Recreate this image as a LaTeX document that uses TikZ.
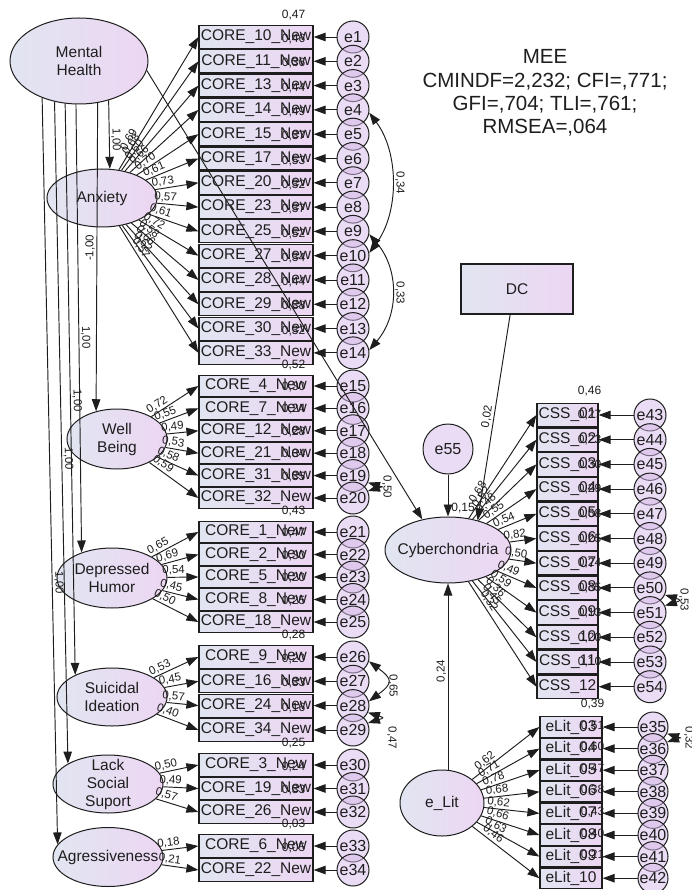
\documentclass[tikz,border=0pt]{standalone}
\usepackage{fontspec}
\setmainfont{Liberation Sans}
\usetikzlibrary{arrows.meta,shapes.geometric,calc}
\definecolor{shL}{RGB}{225,229,241}
\definecolor{shR}{RGB}{237,214,243}
\definecolor{errf}{RGB}{214,186,234}
\definecolor{ink}{RGB}{30,30,30}
\tikzset{
  lat/.style={ellipse, draw=ink, line width=1pt, left color=shL, right color=shR, inner sep=0pt},
  latlab/.style={font=\fontsize{15.5}{18}\selectfont, align=center, text=ink, inner sep=0pt},
  obs/.style={rectangle, draw=ink, line width=1.2pt, left color=shL, right color=shR, inner sep=0pt, font=\fontsize{15.5}{16}\selectfont, text=ink},
  err/.style={circle, draw=ink, line width=1pt, fill=errf, fill opacity=0.5, text opacity=1, inner sep=0pt, minimum size=32pt, font=\fontsize{16}{16}\selectfont, text=ink},
  arr/.style={->, draw=ink, line width=0.95pt},
  biarr/.style={<->, draw=ink, line width=0.95pt},
  coef/.style={font=\fontsize{11.5}{12}\selectfont, text=ink, inner sep=1.5pt},
  rsq/.style={font=\fontsize{12}{12}\selectfont, text=ink, inner sep=0pt},
}
\begin{document}
\begin{tikzpicture}[x=1pt,y=-1pt,>={Triangle[length=12pt,width=8.5pt]}]
\useasboundingbox (0,0) rectangle (692,890);
\fill[white] (0,0) rectangle (692,890);

% ---------- latent variables ----------
\node[lat, minimum width=138pt, minimum height=86pt] (mh) at (79,61) {};
\node[latlab] (mhT) at (mh) {Mental\\Health};
\node[lat, minimum width=110pt, minimum height=58pt] (anx) at (102,198) {};
\node[latlab] (anxT) at (anx) {Anxiety};
\node[lat, minimum width=100pt, minimum height=60pt] (wb) at (117,439) {};
\node[latlab] (wbT) at (wb) {Well\\Being};
\node[lat, minimum width=110pt, minimum height=60pt] (dep) at (112,578) {};
\node[latlab] (depT) at (dep) {Depressed\\Humor};
\node[lat, minimum width=110pt, minimum height=58pt] (sui) at (112,697) {};
\node[latlab] (suiT) at (sui) {Suicidal\\Ideation};
\node[lat, minimum width=110pt, minimum height=58pt] (lss) at (108,784) {};
\node[latlab] (lssT) at (lss) {Lack\\Social\\Suport};
\node[lat, minimum width=110pt, minimum height=59pt] (agr) at (108,857) {};
\node[latlab] (agrT) at (agr) {Agressiveness};
\node[lat, minimum width=126pt, minimum height=66pt] (cyb) at (448,550) {};
\node[latlab] (cybT) at (cyb) {Cyberchondria};
\node[lat, minimum width=84pt, minimum height=66pt] (elit) at (442,803) {};
\node[latlab] (elitT) at (elit) {e\_Lit};

% ---------- CORE indicators ----------
\foreach \y/\c/\l/\r/\e/\h/\s in {
 37/10/{0,69}/{0,47}/1/23/anx, 61.3/11/{0,68}/{0,46}/2/23/anx, 85.6/13/{0,60}/{0,36}/3/23/anx,
 109.9/14/{0,66}/{0,44}/4/23/anx, 134.2/15/{0,70}/{0,49}/5/23/anx, 158.5/17/{0,61}/{0,37}/6/23/anx,
 182.8/20/{0,73}/{0,53}/7/23/anx, 207.1/23/{0,57}/{0,32}/8/23/anx, 231.4/25/{0,61}/{0,37}/9/23/anx,
 255.7/27/{0,72}/{0,52}/10/23/anx, 280/28/{0,58}/{0,34}/11/23/anx, 304.3/29/{0,66}/{0,44}/12/23/anx,
 328.6/30/{0,62}/{0,38}/13/23/anx, 352.9/33/{0,57}/{0,32}/14/23/anx,
 386/4/{0,72}/{0,52}/15/21.5/wb, 408.4/7/{0,55}/{0,30}/16/21.5/wb, 430.8/12/{0,49}/{0,24}/17/21.5/wb,
 453.2/21/{0,53}/{0,28}/18/21.5/wb, 475.6/31/{0,58}/{0,34}/19/21.5/wb, 498/32/{0,59}/{0,35}/20/21.5/wb,
 532/1/{0,65}/{0,43}/21/21.5/dep, 554.5/2/{0,69}/{0,47}/22/21.5/dep, 577/5/{0,54}/{0,30}/23/21.5/dep,
 599.5/8/{0,45}/{0,20}/24/21.5/dep, 622/18/{0,50}/{0,25}/25/21.5/dep,
 657/9/{0,53}/{0,28}/26/23/sui, 681.3/16/{0,45}/{0,20}/27/23/sui, 705.6/24/{0,57}/{0,33}/28/23/sui,
 730/34/{0,40}/{0,16}/29/23/sui,
 765/3/{0,50}/{0,25}/30/22.5/lss, 788.5/19/{0,49}/{0,24}/31/22.5/lss, 812/26/{0,57}/{0,33}/32/22.5/lss,
 846/6/{0,18}/{0,03}/33/23/agr, 870/22/{0,21}/{0,05}/34/23/agr}
{
  \node[obs, minimum width=114pt, minimum height=\h pt] (o\c) at (256,\y) {CORE\_\c\_New};
  \node[rsq] (r\c) at ($(o\c.north east)+(-20,-10)$) {\r};
  \node[err] (e\e) at (353,\y) {e\e};
  \draw[arr] (e\e) -- (o\c);
  \draw[arr] (\s) -- node[coef, pos=0.2, sloped, above] (k\c) {\l} (o\c.west);
}

% ---------- CSS indicators ----------
\foreach \y/\c/\l/\r/\e in {
 415/01/{0,68}/{0,46}/43, 439.7/02/{0,52}/{0,27}/44, 464.4/03/{0,48}/{0,23}/45,
 489.1/04/{0,55}/{0,30}/46, 513.8/05/{0,54}/{0,29}/47, 538.5/06/{0,82}/{0,68}/48,
 563.2/07/{0,50}/{0,25}/49, 587.9/08/{0,49}/{0,24}/50, 612.6/09/{0,59}/{0,35}/51,
 637.3/10/{0,36}/{0,13}/52, 662/11/{0,45}/{0,20}/53, 686.7/12/{0,32}/{0,10}/54}
{
  \node[obs, minimum width=61pt, minimum height=23.5pt] (c\c) at (567.5,\y) {CSS\_\c};
  \node[rsq] (rc\c) at ($(c\c.north east)+(-9,-12)$) {\r};
  \node[err] (e\e) at (650,\y) {e\e};
  \draw[arr] (e\e) -- (c\c);
  \draw[arr] (cyb) -- node[coef, pos=0.22, sloped, above] (kc\c) {\l} (c\c.west);
}

% ---------- eLit indicators ----------
\foreach \y/\c/\l/\r/\e in {
 727/03/{0,62}/{0,39}/35, 748.6/04/{0,71}/{0,51}/36, 770.2/05/{0,78}/{0,60}/37,
 791.8/06/{0,68}/{0,47}/38, 813.4/07/{0,62}/{0,38}/39, 835/08/{0,66}/{0,43}/40,
 856.6/09/{0,63}/{0,40}/41, 878.2/10/{0,46}/{0,21}/42}
{
  \node[obs, minimum width=62pt, minimum height=20.5pt] (l\c) at (571,\y) {eLit\_\c};
  \node[rsq] (rl\c) at ($(l\c.north east)+(-10,-12)$) {\r};
  \node[err, minimum size=30pt] (e\e) at (653,\y) {e\e};
  \draw[arr] (e\e) -- (l\c);
  \draw[arr] (elit) -- node[coef, pos=0.25, sloped, above] (kl\c) {\l} (l\c.west);
}

% ---------- second-order paths ----------
\draw[arr] (mh.-53.4) -- node[coef, sloped, above, pos=0.58] (p1) {1,00} (anx.75);
\draw[arr] (mh.-66.5) -- node[coef, sloped, above, pos=0.47] (p2) {-1,00} (wb.127.9);
\draw[arr] (mh.-94) -- node[coef, sloped, above, pos=0.52] (p3) {1,00} (dep.140);
\draw[arr] (mh.-108.4) -- node[coef, sloped, above, pos=0.52] (p4) {1,00} (sui.149.8);
\draw[arr] (mh.-121.9) -- node[coef, sloped, above, pos=0.54] (p5) {1,00} (lss.153.5);
\draw[arr] (mh.-135.5) -- node[coef, sloped, above, pos=0.65] (p6) {1,00} (agr.166.5);

% ---------- covariances ----------
\draw[biarr] (e4.-10) .. controls +(30,40) and +(30,-40) .. (e10.10);
\node[coef, rotate=-90] (cv1) at (400,183) {0,34};
\draw[biarr] (e9.-10) .. controls +(30,35) and +(30,-35) .. (e14.10);
\node[coef, rotate=-90] (cv2) at (400,293) {0,33};
\draw[biarr] (e19.-25) .. controls +(16,5) and +(16,-5) .. (e20.25);
\node[coef, rotate=-90] (cv3) at (387,487) {0,50};
\draw[biarr] (e26.-15) .. controls +(24,18) and +(24,-18) .. (e28.15);
\node[coef, rotate=-90] (cv4) at (393,686) {0,65};
\draw[biarr] (e28.-25) .. controls +(16,5) and +(16,-5) .. (e29.25);
\node[coef, rotate=-90] (cv5) at (392,738) {0,47};
\draw[biarr] (e50.-25) .. controls +(16,5) and +(16,-5) .. (e51.25);
\node[coef, rotate=-90] (cv6) at (684,600) {0,53};
\draw[biarr] (e35.-25) .. controls +(15,5) and +(15,-5) .. (e36.25);
\node[coef, rotate=-90] (cv7) at (689,738) {0,32};

% ---------- Cyberchondria block ----------
\node[obs, minimum width=112pt, minimum height=50pt] (dc) at (517,289) {DC};
\node[err, minimum size=50pt] (e55) at (448,449) {e55};
\draw[arr] (e55) -- (cyb);
\draw[arr] (dc.-105) -- node[coef, sloped, above, pos=0.5] (kdc) {0,02} (cyb.45);
\draw[arr] (elit.north -| cyb.south) -- node[coef, sloped, above, pos=0.53] (kel) {0,24} (cyb.south);
\node[rsq] (rcyb) at (463,508) {0,15};
\draw[arr] (mh.-8) -- (cyb.130);

% ---------- fit indices ----------
\node[font=\fontsize{20.5}{23.4}\selectfont, align=center, text=ink] (fit) at (545,93)
  {MEE\\CMINDF=2,232; CFI=,771;\\GFI=,704; TLI=,761;\\RMSEA=,064};
\end{tikzpicture}
\end{document}
